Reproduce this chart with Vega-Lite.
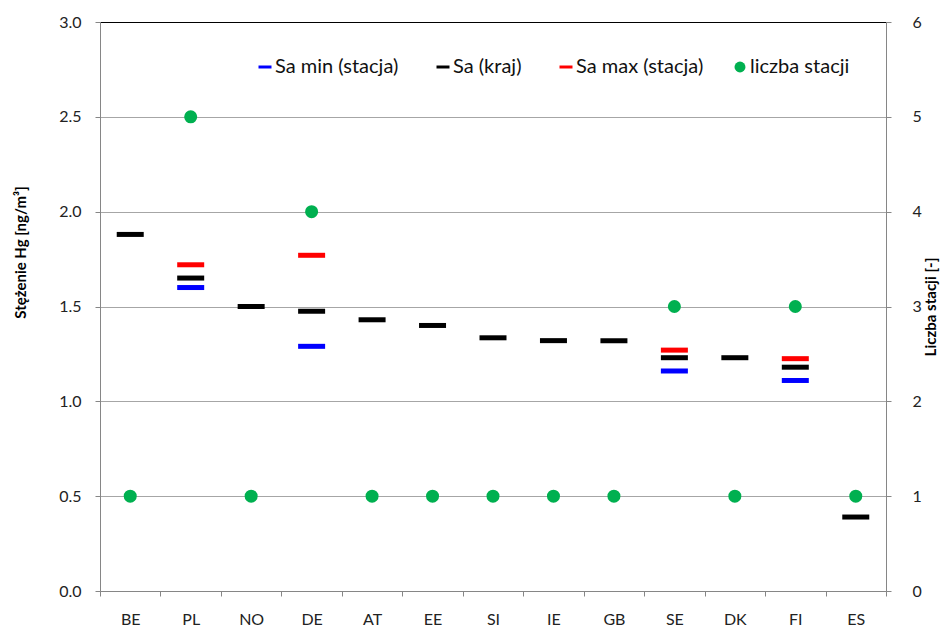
{
  "$schema": "https://vega.github.io/schema/vega-lite/v6.json",
  "width": 786,
  "height": 569,
  "autosize": {"type": "none"},
  "padding": {"left": 100, "top": 22, "right": 62, "bottom": 37},
  "background": "white",
  "config": {
    "font": "Lato",
    "view": {"stroke": null},
    "axis": {
      "domainColor": "#868686",
      "tickColor": "#868686",
      "tickSize": 5,
      "labelFontSize": 16,
      "labelColor": "#222222",
      "labelFont": "Lato",
      "titleFont": "Lato",
      "titleFontSize": 15,
      "titleFontWeight": "bold",
      "titleColor": "#000000"
    },
    "legend": {
      "labelFont": "Lato",
      "labelFontSize": 20,
      "labelColor": "#111111",
      "labelOffset": 0
    }
  },
  "data": {
    "values": [
      {"country": "BE", "min": null, "sa": 1.88, "max": null, "cnt": 1},
      {"country": "PL", "min": 1.6, "sa": 1.65, "max": 1.72, "cnt": 5},
      {"country": "NO", "min": null, "sa": 1.5, "max": null, "cnt": 1},
      {"country": "DE", "min": 1.29, "sa": 1.475, "max": 1.77, "cnt": 4},
      {"country": "AT", "min": null, "sa": 1.43, "max": null, "cnt": 1},
      {"country": "EE", "min": null, "sa": 1.4, "max": null, "cnt": 1},
      {"country": "SI", "min": null, "sa": 1.335, "max": null, "cnt": 1},
      {"country": "IE", "min": null, "sa": 1.32, "max": null, "cnt": 1},
      {"country": "GB", "min": null, "sa": 1.32, "max": null, "cnt": 1},
      {"country": "SE", "min": 1.16, "sa": 1.23, "max": 1.27, "cnt": 3},
      {"country": "DK", "min": null, "sa": 1.23, "max": null, "cnt": 1},
      {"country": "FI", "min": 1.11, "sa": 1.18, "max": 1.225, "cnt": 3},
      {"country": "ES", "min": null, "sa": 0.39, "max": null, "cnt": 1}
    ]
  },
  "encoding": {
    "x": {
      "field": "country",
      "type": "nominal",
      "sort": null,
      "scale": {"paddingInner": 0, "paddingOuter": 0},
      "axis": {
        "title": null,
        "labelAngle": 0,
        "tickBand": "extent",
        "labelPadding": 15,
        "grid": false
      }
    }
  },
  "layer": [
    {
      "transform": [
        {"fold": ["min", "sa", "max"], "as": ["key", "value"]},
        {"filter": "isValid(datum.value)"}
      ],
      "mark": {"type": "tick", "thickness": 5, "size": 27, "opacity": 1},
      "encoding": {
        "y": {
          "field": "value",
          "type": "quantitative",
          "scale": {"domain": [0, 3], "nice": false},
          "axis": {
            "orient": "left",
            "values": [0, 0.5, 1, 1.5, 2, 2.5, 3],
            "format": ".1f",
            "grid": true,
            "gridColor": {"condition": {"test": "datum.value >= 3", "value": "#000000"}, "value": "#a6a6a6"},
            "labelPadding": 14,
            "title": "Stężenie Hg [ng/m³]",
            "titleAngle": 270,
            "titleAlign": "center",
            "titleBaseline": "bottom",
            "titleX": -72,
            "titleY": 230
          }
        },
        "color": {
          "field": "key",
          "type": "nominal",
          "scale": {
            "domain": ["min", "sa", "max"],
            "range": ["#0000ff", "#000000", "#ff0000"]
          },
          "legend": {
            "title": null,
            "orient": "none",
            "direction": "horizontal",
            "legendX": 155,
            "legendY": 35,
            "columnPadding": 34,
            "symbolType": "M-1,-0.23H1V0.23H-1Z",
            "symbolSize": 169,
            "symbolStrokeWidth": 0,
            "labelExpr": "datum.value === 'min' ? 'Sa min (stacja)' : datum.value === 'sa' ? 'Sa (kraj)' : 'Sa max (stacja)'"
          }
        }
      }
    },
    {
      "mark": {"type": "circle", "size": 170, "opacity": 1},
      "encoding": {
        "y": {
          "field": "cnt",
          "type": "quantitative",
          "scale": {"domain": [0, 6], "nice": false},
          "axis": {
            "orient": "right",
            "values": [0, 1, 2, 3, 4, 5, 6],
            "format": "d",
            "grid": false,
            "labelPadding": 21,
            "title": "Liczba stacji [-]",
            "titleAngle": 270,
            "titlePadding": 17
          }
        },
        "fill": {
          "datum": "liczba stacji",
          "scale": {"domain": ["liczba stacji"], "range": ["#00b050"]},
          "legend": {
            "title": null,
            "orient": "none",
            "legendX": 630,
            "legendY": 35,
            "symbolType": "circle",
            "symbolSize": 120
          }
        }
      }
    }
  ],
  "resolve": {"scale": {"y": "independent"}}
}
